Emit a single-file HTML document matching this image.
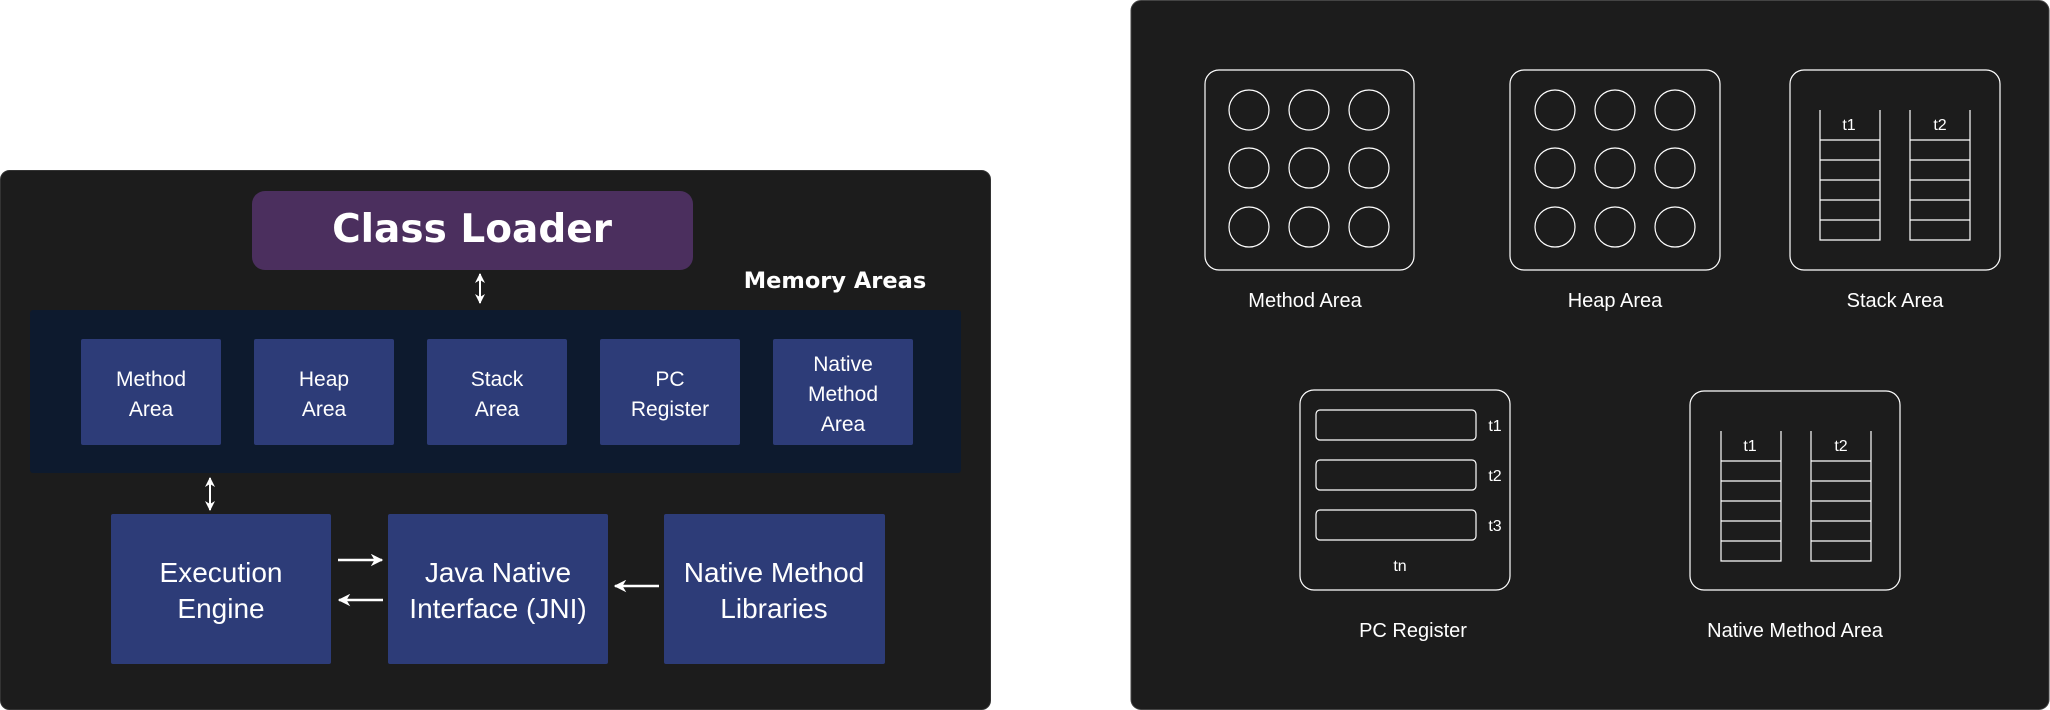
<!DOCTYPE html>
<html><head><meta charset="utf-8"><style>
html,body{margin:0;padding:0;background:#fff;width:2050px;height:710px;overflow:hidden}
svg{display:block}
</style></head><body>
<svg width="2050" height="710" viewBox="0 0 2050 710" xmlns="http://www.w3.org/2000/svg">
<defs>
<marker id="ah" viewBox="0 0 10 10" refX="9" refY="5" markerWidth="5" markerHeight="5" orient="auto-start-reverse">
<path d="M0,0 L10,5 L0,10 L3,5 z" fill="#fff"/></marker>
</defs>
<!-- left panel -->
<rect x="0.5" y="170.5" width="990" height="539" rx="9" fill="#1c1c1c" stroke="#333"/>
<rect x="252" y="191" width="441" height="79" rx="13" fill="#4b2f5e"/>
<text x="472" y="242" font-family="DejaVu Sans" font-weight="bold" font-size="39" fill="#fff" text-anchor="middle">Class Loader</text>
<text x="835" y="288" font-family="DejaVu Sans" font-weight="bold" font-size="22.5" fill="#fff" text-anchor="middle">Memory Areas</text>
<line x1="480" y1="274" x2="480" y2="303" stroke="#fff" stroke-width="2" marker-start="url(#ah)" marker-end="url(#ah)"/>
<rect x="30" y="310" width="931" height="163" rx="3" fill="#0d1a2e"/>
<g fill="#2d3c78">
<rect x="81" y="339" width="140" height="106" rx="2"/>
<rect x="254" y="339" width="140" height="106" rx="2"/>
<rect x="427" y="339" width="140" height="106" rx="2"/>
<rect x="600" y="339" width="140" height="106" rx="2"/>
<rect x="773" y="339" width="140" height="106" rx="2"/>
</g>
<g font-family="Liberation Sans" font-size="21" fill="#fff" text-anchor="middle">
<text x="151" y="386">Method</text><text x="151" y="416">Area</text>
<text x="324" y="386">Heap</text><text x="324" y="416">Area</text>
<text x="497" y="386">Stack</text><text x="497" y="416">Area</text>
<text x="670" y="386">PC</text><text x="670" y="416">Register</text>
<text x="843" y="371">Native</text><text x="843" y="401">Method</text><text x="843" y="431">Area</text>
</g>
<line x1="210" y1="478" x2="210" y2="510" stroke="#fff" stroke-width="2" marker-start="url(#ah)" marker-end="url(#ah)"/>
<g fill="#2d3c78">
<rect x="111" y="514" width="220" height="150" rx="2"/>
<rect x="388" y="514" width="220" height="150" rx="2"/>
<rect x="664" y="514" width="221" height="150" rx="2"/>
</g>
<g font-family="Liberation Sans" font-size="28" fill="#fff" text-anchor="middle">
<text x="221" y="582">Execution</text><text x="221" y="618">Engine</text>
<text x="498" y="582">Java Native</text><text x="498" y="618">Interface (JNI)</text>
<text x="774" y="582">Native Method</text><text x="774" y="618">Libraries</text>
</g>
<g stroke="#fff" stroke-width="2.5">
<line x1="338" y1="560" x2="382" y2="560" marker-end="url(#ah)"/>
<line x1="383" y1="600" x2="339" y2="600" marker-end="url(#ah)"/>
<line x1="659" y1="586" x2="615" y2="586" marker-end="url(#ah)"/>
</g>
<!-- right panel -->
<rect x="1131" y="0.5" width="918" height="709" rx="10" fill="#1c1c1c" stroke="#444"/>
<g fill="none" stroke="#fff" stroke-width="1.2">
<rect x="1205" y="70" width="209" height="200" rx="14"/>
<rect x="1510" y="70" width="210" height="200" rx="14"/>
<rect x="1790" y="70" width="210" height="200" rx="14"/>
<rect x="1300" y="390" width="210" height="200" rx="14"/>
<rect x="1690" y="391" width="210" height="199" rx="14"/>
<g id="circ">
<circle cx="1249" cy="110" r="20"/><circle cx="1309" cy="110" r="20"/><circle cx="1369" cy="110" r="20"/>
<circle cx="1249" cy="168" r="20"/><circle cx="1309" cy="168" r="20"/><circle cx="1369" cy="168" r="20"/>
<circle cx="1249" cy="227" r="20"/><circle cx="1309" cy="227" r="20"/><circle cx="1369" cy="227" r="20"/>
</g>
<use href="#circ" transform="translate(306,0)"/>
<g id="stk">
<path d="M1820,110 V240 H1880 V110 M1820,140 H1880 M1820,160 H1880 M1820,180 H1880 M1820,200 H1880 M1820,220 H1880"/>
<path d="M1910,110 V240 H1970 V110 M1910,140 H1970 M1910,160 H1970 M1910,180 H1970 M1910,200 H1970 M1910,220 H1970"/>
</g>
<use href="#stk" transform="translate(-99,321)"/>
<rect x="1316" y="410" width="160" height="30" rx="4"/>
<rect x="1316" y="460" width="160" height="30" rx="4"/>
<rect x="1316" y="510" width="160" height="30" rx="4"/>
</g>
<g font-family="Liberation Sans" fill="#fff" text-anchor="middle">
<g font-size="20">
<text x="1305" y="307">Method Area</text>
<text x="1615" y="307">Heap Area</text>
<text x="1895" y="307">Stack Area</text>
<text x="1413" y="637">PC Register</text>
<text x="1795" y="637">Native Method Area</text>
</g>
<g font-size="16">
<text x="1849" y="130">t1</text><text x="1940" y="130">t2</text>
<text x="1750" y="451">t1</text><text x="1841" y="451">t2</text>
<text x="1495" y="431">t1</text><text x="1495" y="481">t2</text><text x="1495" y="531">t3</text>
<text x="1400" y="571">tn</text>
</g>
</g>
</svg>
</body></html>
